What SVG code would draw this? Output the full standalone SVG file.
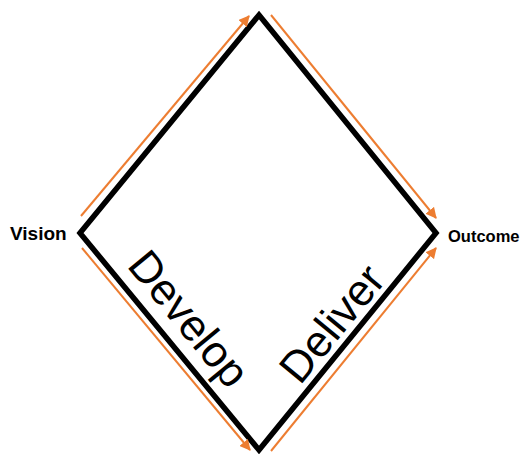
<svg xmlns="http://www.w3.org/2000/svg" width="523" height="454" viewBox="0 0 523 454">
  <defs>
    <style>
      .edge { fill: none; stroke: #000; stroke-width: 5.5; stroke-linejoin: miter; stroke-miterlimit: 10; }
      .flow { fill: none; stroke: #ED7D31; stroke-width: 2; marker-end: url(#ah); }
      .lbl { font-family: "Liberation Sans", Arial, sans-serif; font-weight: bold; fill: #000; }
      .phase { font-family: "Liberation Sans", Arial, sans-serif; font-size: 44px; fill: #000; }
    </style>
    <marker id="ah" viewBox="0 0 10 10" refX="9" refY="5" markerWidth="5.5" markerHeight="5.5" markerUnits="strokeWidth" orient="auto">
      <path d="M0,0 L10,5 L0,10 Z" fill="#ED7D31"/>
    </marker>
  </defs>
  <rect width="523" height="454" fill="#fff"/>
  <g id="diamond">
    <polygon class="edge" points="259,15 436,233 259,450 80,233"/>
  </g>
  <g id="connectors">
    <line class="flow" x1="81" y1="216" x2="249" y2="16"/>
    <line class="flow" x1="271" y1="15" x2="436" y2="218"/>
    <line class="flow" x1="82" y1="248" x2="250" y2="450"/>
    <line class="flow" x1="271" y1="451" x2="436" y2="248"/>
  </g>
  <g id="vision">
    <text class="lbl" x="10" y="240" font-size="19">Vision</text>
  </g>
  <g id="outcome">
    <text class="lbl" x="448" y="242" font-size="16.5">Outcome</text>
  </g>
  <g id="develop">
    <text class="phase" transform="translate(126,266) rotate(50.5)">Develop</text>
  </g>
  <g id="deliver">
    <text class="phase" transform="translate(300,386) rotate(-50.5)">Deliver</text>
  </g>
</svg>
